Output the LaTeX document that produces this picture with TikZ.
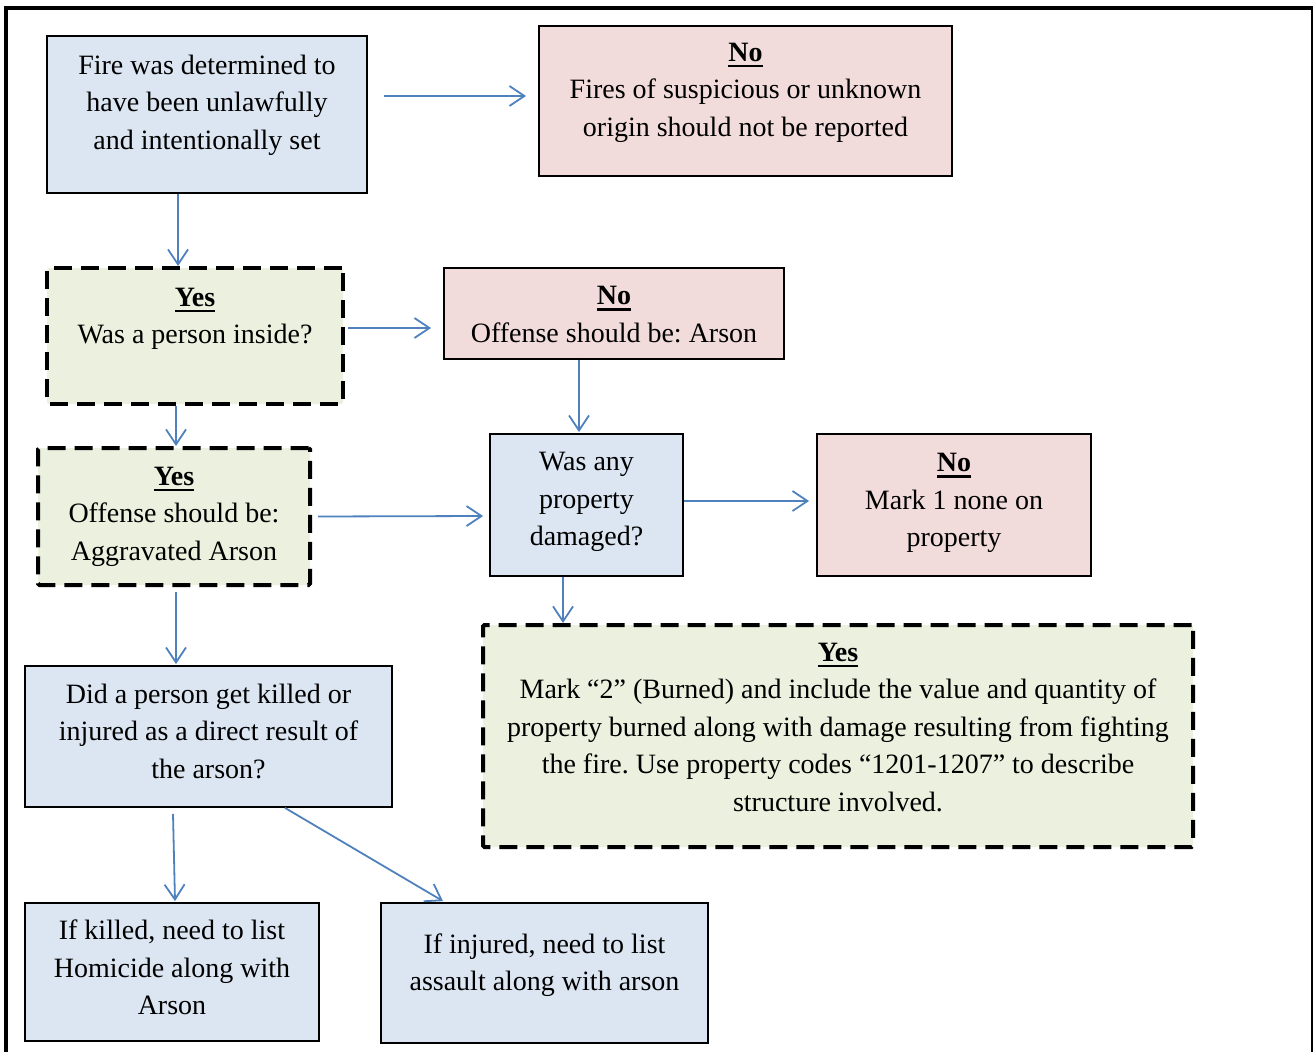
\documentclass[tikz,border=0pt]{standalone}
\usepackage{fontspec}
\setmainfont{Liberation Serif}
\usetikzlibrary{arrows.meta,calc}

\definecolor{fillblue}{HTML}{DCE6F2}
\definecolor{fillpink}{HTML}{F2DCDB}
\definecolor{fillgreen}{HTML}{EBF1DE}
\definecolor{linkblue}{HTML}{4F81BD}

% bold heading with a heavy underline
\newcommand\headline[1]{\setbox0\hbox{\textbf{#1}}\rlap{\rule[-6pt]{\wd0}{2.5pt}}\box0}
% extra depth on the last line, raising the text block inside its box
\newcommand\lift[1]{\rule[-\dimexpr 11.25pt+#1pt*2\relax]{0pt}{0pt}}
% extra height on the first line, lowering the text block inside its box
\newcommand\sink[1]{\rule{0pt}{\dimexpr 26.25pt+#1pt*2\relax}}

\tikzset{
  every node/.style={font={\fontsize{28}{37.5}\selectfont\frenchspacing}, align=center, inner sep=0pt},
  plainbox/.style={draw=black, line width=1.8pt},
  dashbox/.style={draw=black, line width=4pt, dash pattern=on 18pt off 9pt, rounded corners=1.5pt},
  bluebox/.style={plainbox, fill=fillblue},
  pinkbox/.style={plainbox, fill=fillpink},
  greenbox/.style={dashbox, fill=fillgreen},
  conn/.style={draw=linkblue, line width=1.8pt, -{Straight Barb[length=15pt,width=20pt]}},
  frame/.style={draw=black, line cap=rect}
}

\begin{document}
\begin{tikzpicture}[x=1pt, y=-1pt]
\useasboundingbox (0,0) rectangle (1313,1051);

% outer frame
\draw[frame, line width=4pt] (6,1051) -- (6,8) -- (1313,8);
\draw[frame, line width=2pt] (1311.5,8) -- (1311.5,1051);

% boxes
\node[bluebox, minimum width=320pt, minimum height=157pt] (fire) at (207,114.5)
  {\strut Fire was determined to\\have been unlawfully\\and intentionally set\lift{10}};
\node[pinkbox, minimum width=413pt, minimum height=150pt] (noreport) at (745.5,101)
  {\strut\headline{No}\\Fires of suspicious or unknown\\origin should not be reported\lift{9.5}};
\node[greenbox, minimum width=296pt, minimum height=136pt] (inside) at (195,336)
  {\strut\headline{Yes}\\Was a person inside?\lift{18.5}};
\node[pinkbox, minimum width=340pt, minimum height=91pt] (arson) at (614,313.5)
  {\sink{2.5}\headline{No}\\Offense should be: Arson\strut};
\node[greenbox, minimum width=272pt, minimum height=137pt] (aggr) at (174,516.5)
  {\strut\headline{Yes}\\Offense should be:\\Aggravated Arson\lift{1.5}};
\node[bluebox, minimum width=193pt, minimum height=142pt] (damage) at (586.5,505)
  {\strut Was any\\property\\damaged?\lift{4.5}};
\node[pinkbox, minimum width=274pt, minimum height=142pt] (nodamage) at (954,505)
  {\strut\headline{No}\\Mark 1 none on\\property\lift{3.5}};
\node[greenbox, minimum width=710pt, minimum height=222pt] (burned) at (838,736)
  {\strut\headline{Yes}\\Mark “2” (Burned) and include the value and quantity of\\property burned along with damage resulting from fighting\\the fire. Use property codes “1201-1207” to describe\\structure involved.\lift{7.5}};
\node[bluebox, minimum width=367pt, minimum height=141pt] (victim) at (208.5,736.5)
  {\strut Did a person get killed or\\injured as a direct result of\\the arson?\lift{3.5}};
\node[bluebox, minimum width=294pt, minimum height=138pt] (killed) at (172,972)
  {\strut If killed, need to list\\Homicide along with\\Arson\lift{2.5}};
\node[bluebox, minimum width=327pt, minimum height=140pt] (injured) at (544.5,973)
  {\strut If injured, need to list\\assault along with arson\lift{8.5}};

% connectors
\draw[conn] ($(fire.east)+(16,-18.5)$) -- ($(noreport.west)+(-12,-5)$);
\draw[conn] ($(fire.south)+(-29,0)$) -- ($(inside.north)+(-17,0)$);
\draw[conn] ($(inside.east)+(3,-8)$) -- ($(arson.west)+(-12,14.5)$);
\draw[conn] ($(inside.south)+(-19,0)$) -- ($(aggr.north)+(2,0)$);
\draw[conn] ($(arson.south)+(-35,0)$) -- ($(damage.north)+(-7.5,-1)$);
\draw[conn] ($(aggr.east)+(6,0)$) -- ($(damage.west)+(-6,11)$);
\draw[conn] ($(damage.east)+(0,-4)$) -- ($(nodamage.west)+(-7,-4)$);
\draw[conn] ($(damage.south)+(-23.5,0)$) -- ($(burned.north west)+(82,0)$);
\draw[conn] ($(aggr.south)+(2,5)$) -- ($(victim.north)+(-32.5,-1)$);
\draw[conn] ($(victim.south)+(-35.5,6)$) -- ($(killed.north)+(3,-1)$);
\draw[conn] ($(victim.south)+(76.5,0)$) -- ($(injured.north)+(-101.5,-1)$);
\end{tikzpicture}
\end{document}
